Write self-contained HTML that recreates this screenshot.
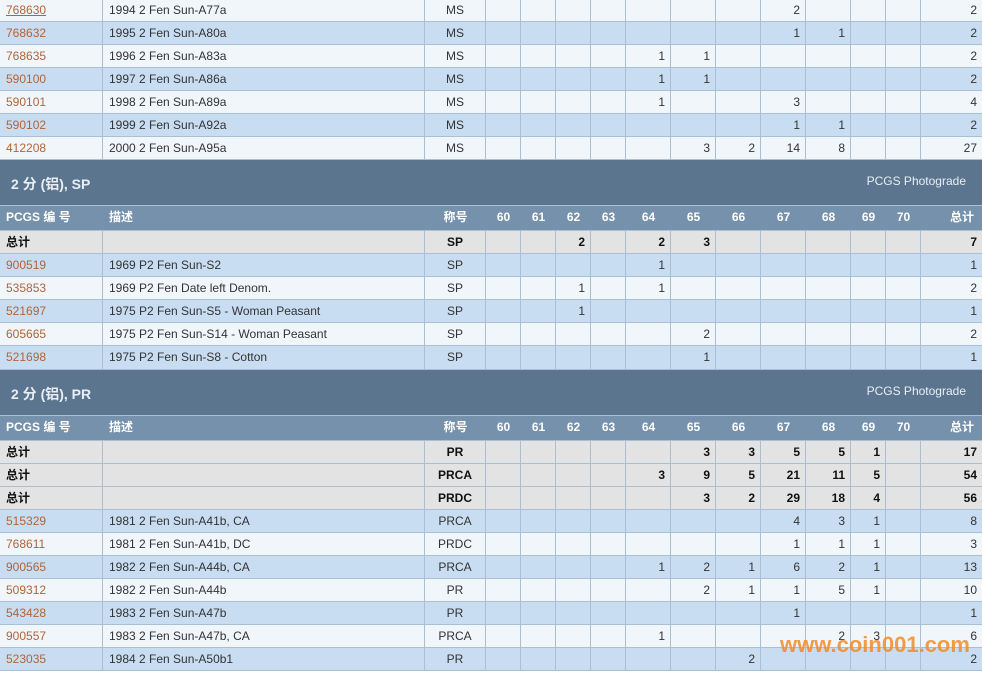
<!DOCTYPE html>
<html><head><meta charset="utf-8"><style>
body{margin:0;width:982px;height:673px;overflow:hidden;background:#fff;font-family:"Liberation Sans","Noto Sans CJK SC",sans-serif;font-size:12px;color:#333;position:relative}
.r{position:absolute;left:0;width:982px;display:grid;grid-template-columns:103px 322px 61px 35px 35px 35px 35px 45px 45px 45px 45px 45px 35px 35px 61px;box-sizing:border-box;border-bottom:1px solid #a9bfd3}
.r>span{border-right:1px solid #a9bfd3;text-align:right;padding-right:5px;line-height:22px;white-space:nowrap;overflow:hidden}
.r>span:nth-child(1),.r>span:nth-child(2){text-align:left;padding-left:6px;padding-right:0}
.r>span:nth-child(3){text-align:center;padding:0}
.r>span:last-child{border-right:none}
.l{background:#f1f6fb}.b{background:#c8ddf1}
.t{background:#e3e3e3;font-weight:bold;color:#111}
.h{background:#7591ac;color:#fff;font-weight:bold}
.h>span{text-align:center!important;padding:0!important;border-right:none!important}
.h>span:nth-child(1),.h>span:nth-child(2){text-align:left!important;padding-left:6px!important}
.r>span:first-child a{color:#b0643a;text-decoration:none}
.band{position:absolute;left:0;width:982px;background:#5b758f;color:#e8eef4;border-bottom:1px solid #a9bfd3;box-sizing:border-box}
.band b{position:absolute;left:11px;top:14px;font-size:14px}
.band i{position:absolute;right:16px;top:14px;font-style:normal;font-size:12px}
.wm{position:absolute;left:780px;top:632px;font-size:22px;font-weight:bold;color:rgba(240,140,40,0.85);letter-spacing:0px}
</style></head><body>
<div class="r l" style="top:-1px;height:23px"><span><a style="text-decoration:underline">768630</a></span><span>1994 2 Fen Sun-A77a</span><span>MS</span><span></span><span></span><span></span><span></span><span></span><span></span><span></span><span>2</span><span></span><span></span><span></span><span>2</span></div>
<div class="r b" style="top:22px;height:23px"><span><a>768632</a></span><span>1995 2 Fen Sun-A80a</span><span>MS</span><span></span><span></span><span></span><span></span><span></span><span></span><span></span><span>1</span><span>1</span><span></span><span></span><span>2</span></div>
<div class="r l" style="top:45px;height:23px"><span><a>768635</a></span><span>1996 2 Fen Sun-A83a</span><span>MS</span><span></span><span></span><span></span><span></span><span>1</span><span>1</span><span></span><span></span><span></span><span></span><span></span><span>2</span></div>
<div class="r b" style="top:68px;height:23px"><span><a>590100</a></span><span>1997 2 Fen Sun-A86a</span><span>MS</span><span></span><span></span><span></span><span></span><span>1</span><span>1</span><span></span><span></span><span></span><span></span><span></span><span>2</span></div>
<div class="r l" style="top:91px;height:23px"><span><a>590101</a></span><span>1998 2 Fen Sun-A89a</span><span>MS</span><span></span><span></span><span></span><span></span><span>1</span><span></span><span></span><span>3</span><span></span><span></span><span></span><span>4</span></div>
<div class="r b" style="top:114px;height:23px"><span><a>590102</a></span><span>1999 2 Fen Sun-A92a</span><span>MS</span><span></span><span></span><span></span><span></span><span></span><span></span><span></span><span>1</span><span>1</span><span></span><span></span><span>2</span></div>
<div class="r l" style="top:137px;height:23px"><span><a>412208</a></span><span>2000 2 Fen Sun-A95a</span><span>MS</span><span></span><span></span><span></span><span></span><span></span><span>3</span><span>2</span><span>14</span><span>8</span><span></span><span></span><span>27</span></div>
<div class="band" style="top:160px;height:46px"><b>2 分 (铝), SP</b><i>PCGS Photograde</i></div>
<div class="r h" style="top:206px;height:25px"><span>PCGS 编 号</span><span>描述</span><span>称号</span><span>60</span><span>61</span><span>62</span><span>63</span><span>64</span><span>65</span><span>66</span><span>67</span><span>68</span><span>69</span><span>70</span><span style="text-align:right!important;padding-right:8px!important">总计</span></div>
<div class="r t" style="top:231px;height:23px"><span>总计</span><span></span><span>SP</span><span></span><span></span><span>2</span><span></span><span>2</span><span>3</span><span></span><span></span><span></span><span></span><span></span><span>7</span></div>
<div class="r b" style="top:254px;height:23px"><span><a>900519</a></span><span>1969 P2 Fen Sun-S2</span><span>SP</span><span></span><span></span><span></span><span></span><span>1</span><span></span><span></span><span></span><span></span><span></span><span></span><span>1</span></div>
<div class="r l" style="top:277px;height:23px"><span><a>535853</a></span><span>1969 P2 Fen Date left Denom.</span><span>SP</span><span></span><span></span><span>1</span><span></span><span>1</span><span></span><span></span><span></span><span></span><span></span><span></span><span>2</span></div>
<div class="r b" style="top:300px;height:23px"><span><a>521697</a></span><span>1975 P2 Fen Sun-S5 - Woman Peasant</span><span>SP</span><span></span><span></span><span>1</span><span></span><span></span><span></span><span></span><span></span><span></span><span></span><span></span><span>1</span></div>
<div class="r l" style="top:323px;height:23px"><span><a>605665</a></span><span>1975 P2 Fen Sun-S14 - Woman Peasant</span><span>SP</span><span></span><span></span><span></span><span></span><span></span><span>2</span><span></span><span></span><span></span><span></span><span></span><span>2</span></div>
<div class="r b" style="top:346px;height:24px"><span><a>521698</a></span><span>1975 P2 Fen Sun-S8 - Cotton</span><span>SP</span><span></span><span></span><span></span><span></span><span></span><span>1</span><span></span><span></span><span></span><span></span><span></span><span>1</span></div>
<div class="band" style="top:370px;height:46px"><b>2 分 (铝), PR</b><i>PCGS Photograde</i></div>
<div class="r h" style="top:416px;height:25px"><span>PCGS 编 号</span><span>描述</span><span>称号</span><span>60</span><span>61</span><span>62</span><span>63</span><span>64</span><span>65</span><span>66</span><span>67</span><span>68</span><span>69</span><span>70</span><span style="text-align:right!important;padding-right:8px!important">总计</span></div>
<div class="r t" style="top:441px;height:23px"><span>总计</span><span></span><span>PR</span><span></span><span></span><span></span><span></span><span></span><span>3</span><span>3</span><span>5</span><span>5</span><span>1</span><span></span><span>17</span></div>
<div class="r t" style="top:464px;height:23px"><span>总计</span><span></span><span>PRCA</span><span></span><span></span><span></span><span></span><span>3</span><span>9</span><span>5</span><span>21</span><span>11</span><span>5</span><span></span><span>54</span></div>
<div class="r t" style="top:487px;height:23px"><span>总计</span><span></span><span>PRDC</span><span></span><span></span><span></span><span></span><span></span><span>3</span><span>2</span><span>29</span><span>18</span><span>4</span><span></span><span>56</span></div>
<div class="r b" style="top:510px;height:23px"><span><a>515329</a></span><span>1981 2 Fen Sun-A41b, CA</span><span>PRCA</span><span></span><span></span><span></span><span></span><span></span><span></span><span></span><span>4</span><span>3</span><span>1</span><span></span><span>8</span></div>
<div class="r l" style="top:533px;height:23px"><span><a>768611</a></span><span>1981 2 Fen Sun-A41b, DC</span><span>PRDC</span><span></span><span></span><span></span><span></span><span></span><span></span><span></span><span>1</span><span>1</span><span>1</span><span></span><span>3</span></div>
<div class="r b" style="top:556px;height:23px"><span><a>900565</a></span><span>1982 2 Fen Sun-A44b, CA</span><span>PRCA</span><span></span><span></span><span></span><span></span><span>1</span><span>2</span><span>1</span><span>6</span><span>2</span><span>1</span><span></span><span>13</span></div>
<div class="r l" style="top:579px;height:23px"><span><a>509312</a></span><span>1982 2 Fen Sun-A44b</span><span>PR</span><span></span><span></span><span></span><span></span><span></span><span>2</span><span>1</span><span>1</span><span>5</span><span>1</span><span></span><span>10</span></div>
<div class="r b" style="top:602px;height:23px"><span><a>543428</a></span><span>1983 2 Fen Sun-A47b</span><span>PR</span><span></span><span></span><span></span><span></span><span></span><span></span><span></span><span>1</span><span></span><span></span><span></span><span>1</span></div>
<div class="r l" style="top:625px;height:23px"><span><a>900557</a></span><span>1983 2 Fen Sun-A47b, CA</span><span>PRCA</span><span></span><span></span><span></span><span></span><span>1</span><span></span><span></span><span></span><span>2</span><span>3</span><span></span><span>6</span></div>
<div class="r b" style="top:648px;height:23px"><span><a>523035</a></span><span>1984 2 Fen Sun-A50b1</span><span>PR</span><span></span><span></span><span></span><span></span><span></span><span></span><span>2</span><span></span><span></span><span></span><span></span><span>2</span></div>
<div class="wm">www.coin001.com</div>
</body></html>
